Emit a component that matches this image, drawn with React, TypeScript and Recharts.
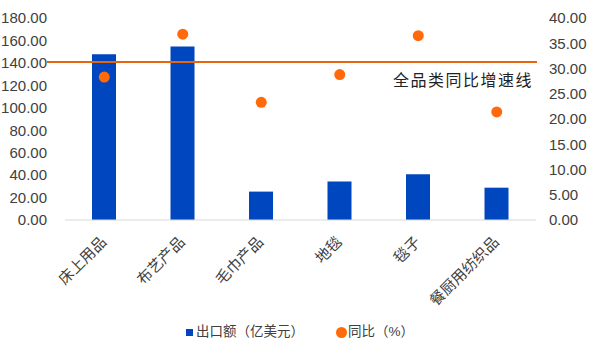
import React from 'react';
import { ComposedChart, Bar, Scatter, XAxis, YAxis, ReferenceLine, Legend } from 'recharts';

const categories = ['床上用品', '布艺产品', '毛巾产品', '地毯', '毯子', '餐厨用纺织品'];
const exportValues = [147.7, 154.5, 25.3, 34.3, 40.7, 28.8];
const yoyValues = [28.3, 36.8, 23.3, 28.8, 36.5, 21.4];
const overallGrowth = 31.3;
const leftTicks = [0, 20, 40, 60, 80, 100, 120, 140, 160, 180];
const rightTicks = [0, 5, 10, 15, 20, 25, 30, 35, 40];

const data = categories.map((name, i) => ({ name, value: exportValues[i], yoy: yoyValues[i] }));

const FONT = '"Liberation Sans", Arial, "Noto Sans CJK SC", sans-serif';
const BLUE = '#0046BE';
const ORANGE = '#FF6A0A';
const LINE = '#E8650F';
const TEXT = '#404040';

const XTick = (props: any) => {
  const { x, y, payload } = props;
  return (
    <text
      transform={`translate(${x + 3},${y + 15}) rotate(-45)`}
      textAnchor="end"
      fontSize={15}
      fill={TEXT}
      fontFamily={FONT}
    >
      {payload.value}
    </text>
  );
};

const Dot = (props: any) => {
  const { cx, cy } = props;
  if (cx == null || cy == null) return null;
  return <circle cx={cx} cy={cy} r={5.5} fill={ORANGE} />;
};

const RefShape = (props: any) => {
  const { x1, y1, x2 } = props;
  const lx = Math.min(x1, x2);
  const rx = Math.max(x1, x2);
  return (
    <g>
      <line x1={lx - 18} y1={y1} x2={rx + 1} y2={y1} stroke={LINE} strokeWidth={2} />
      <text
        x={rx - 3}
        y={y1 + 24}
        textAnchor="end"
        fontSize={16}
        letterSpacing={1.5}
        fill="#222"
        fontFamily={FONT}
      >
        全品类同比增速线
      </text>
    </g>
  );
};

const LegendContent = () => (
  <div
    style={{
      display: 'flex',
      justifyContent: 'center',
      alignItems: 'center',
      height: 20,
      fontFamily: FONT,
      fontSize: 13.5,
      lineHeight: '20px',
      color: TEXT,
    }}
  >
    <span style={{ display: 'inline-block', width: 7, height: 7, background: BLUE, marginRight: 3 }} />
    <span style={{ marginRight: 32 }}>出口额（亿美元）</span>
    <span style={{ display: 'inline-block', width: 11, height: 11, borderRadius: 6, background: ORANGE, marginRight: 1 }} />
    <span>同比（%）</span>
  </div>
);

export default function App() {
  return (
    <div style={{ position: 'absolute', left: 0, top: 0, width: 600, height: 355, background: '#fff' }}>
      <ComposedChart
        width={600}
        height={355}
        data={data}
        margin={{ top: 18, right: 0, bottom: 13, left: 0 }}
      >
        <XAxis
          dataKey="name"
          tick={<XTick />}
          tickLine={false}
          axisLine={{ stroke: '#D9D9D9' }}
          height={102}
          interval={0}
        />
        <YAxis
          yAxisId="left"
          orientation="left"
          domain={[0, 180]}
          ticks={leftTicks}
          tickFormatter={(v: number) => v.toFixed(2)}
          width={65}
          tickSize={0}
          tickMargin={18}
          axisLine={false}
          tickLine={false}
          tick={{ fontSize: 15, fill: TEXT, fontFamily: FONT }}
        />
        <YAxis
          yAxisId="right"
          orientation="right"
          domain={[0, 40]}
          ticks={rightTicks}
          tickFormatter={(v: number) => v.toFixed(2)}
          width={64}
          tickSize={0}
          tickMargin={13}
          axisLine={false}
          tickLine={false}
          tick={{ fontSize: 15, fill: TEXT, fontFamily: FONT, textAnchor: 'start' }}
        />
        <Bar yAxisId="left" dataKey="value" fill={BLUE} barSize={24} isAnimationActive={false} />
        <Scatter yAxisId="right" dataKey="yoy" fill={ORANGE} shape={<Dot />} isAnimationActive={false} />
        <ReferenceLine yAxisId="right" y={overallGrowth} shape={<RefShape />} ifOverflow="visible" />
        <Legend verticalAlign="bottom" height={20} content={<LegendContent />} />
      </ComposedChart>
    </div>
  );
}
